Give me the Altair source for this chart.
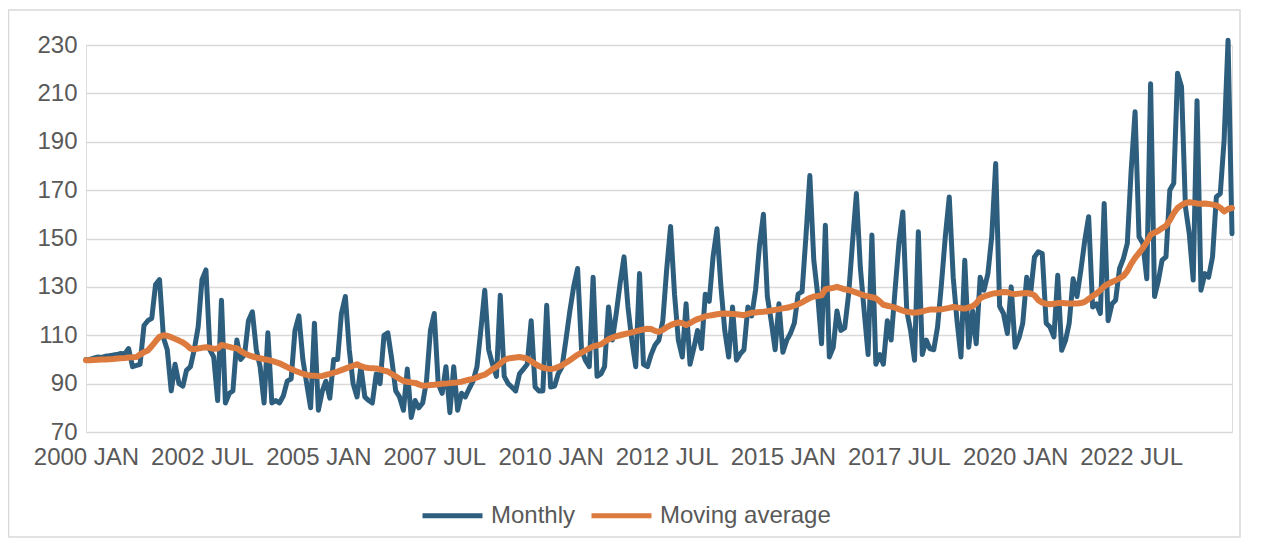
import altair as alt
import pandas as pd

start_month = "2000-01-01"

monthly = [
    100, 100, 100.5, 101, 100.8, 101.3, 101.5, 101.8, 102, 102.5, 102.3, 104.5,
    97, 97.5, 98, 114, 116, 117, 131, 133, 109, 104, 87, 98,
    90, 89, 95.5, 97, 104, 113.5, 133, 137, 104, 101, 83, 124.5,
    82, 86, 87, 108, 100, 102, 116, 119.7, 104, 97, 82, 111,
    82, 83, 82, 85, 91, 92, 112, 118, 100, 90, 80, 115,
    79, 87, 91, 84, 100, 100, 119, 126, 104, 90, 84.5, 97,
    84.5, 83, 82, 94, 90, 110, 111, 100, 87, 84.5, 79, 96,
    76, 83, 80, 82, 91, 112, 119, 90, 86, 97, 78, 97,
    79, 86, 84.5, 88, 91, 97, 112, 128.6, 104, 98, 93, 126.5,
    93, 90, 88.6, 87, 94, 96, 98, 116, 88.6, 87, 87, 122.4,
    88.6, 89, 94, 97, 108, 120, 130, 137.6, 104, 99.7, 97, 134,
    93, 94, 97, 121.7, 108, 119, 131.4, 142.4, 121.7, 108, 97, 135.5,
    98, 97, 102, 106, 108, 116, 137, 155, 127, 108, 101, 123,
    98, 105, 112, 104.5, 127, 124, 142.4, 154, 130, 112, 101, 121.7,
    99.7, 102.4, 104, 121.7, 118, 129, 147, 160, 126, 116, 104, 123,
    103, 108, 110.7, 115, 127, 128, 150.7, 176, 141, 127, 106.5, 155.5,
    101, 105, 120, 112, 113, 127, 148, 168.6, 138, 120, 102, 151.4,
    98, 102, 98, 116, 108, 128.6, 148, 161, 120, 112, 99.7, 152.8,
    102, 108, 104.5, 104, 113.4, 131.4, 150.7, 167.2, 134, 116, 101, 141,
    105, 120, 106.5, 134, 128.6, 135.5, 150.7, 181, 122, 119, 110.7, 130,
    105, 109, 115, 134, 127, 142.4, 144.5, 143.8, 115, 113.4, 109.3, 134.8,
    103.8, 108, 115, 133.4, 126, 137, 149, 159, 121.7, 123, 119, 164.5,
    116, 123, 124.5, 137.6, 141.7, 148, 178, 202.4, 150.7, 148, 133.4, 214,
    126, 132.8, 141, 142.4, 170, 172.8, 218.3, 212.8, 163, 152, 132.8, 207,
    128.6, 135.5, 134, 142.4, 167.2, 168.6, 190.7, 232, 152,
]

moving_average = [
    99.7, 99.7, 99.8, 99.9, 100, 100, 100.1, 100.2, 100.4, 100.5, 100.6, 100.8,
    100.9, 101, 102, 103, 103.7, 105.5, 107.5, 109.4, 110, 109.8, 109.2, 108.5,
    107.8, 107, 106, 104.5, 104.2, 104.5, 104.8, 105, 104.8, 104.4, 104.5, 106,
    105.6, 105.2, 104.8, 104.6, 103.5, 102.5, 101.8, 101.2, 100.8, 100.5, 100.1, 99.8,
    99.4, 98.9, 98.4, 97.6, 96.8, 96, 95.3, 94.7, 94.1, 93.6, 93.4, 93.3,
    93.1, 93.2, 93.6, 94, 94.5, 95, 95.6, 96.2, 96.8, 97.4, 98, 97.2,
    96.7, 96.5, 96.4, 96.3, 95.9, 95.4, 95, 94, 93, 92, 91.1, 90.8,
    90.5, 90.3, 89.7, 89.1, 89.2, 89.4, 89.5, 89.7, 89.9, 90, 90.2, 90.4,
    90.5, 90.8, 91.2, 91.6, 92, 92.6, 93.2, 93.7, 94.8, 96, 97, 98.3,
    99.7, 100.4, 100.6, 100.8, 101, 100.7, 100.3, 99.3, 98.1, 97.3, 96.6, 96.2,
    96, 96.3, 96.8, 97.6, 98.6, 99.7, 100.8, 101.9, 102.8, 103.7, 104.6, 105.4,
    105.8, 106.2, 107.3, 108.3, 109, 109.6, 110, 110.4, 110.8, 111.2, 111.6, 112,
    112.4, 112.7, 112.6, 111.8, 111.4, 112.2, 113.3, 114.2, 114.8, 115.3, 115, 114.2,
    115, 116, 116.7, 117.2, 117.8, 118.1, 118.4, 118.7, 118.9, 119, 118.9, 118.8,
    118.7, 118.5, 118.3, 118.8, 119.3, 119.4, 119.6, 119.7, 119.9, 120.2, 120.5, 120.8,
    121.1, 121.4, 121.7, 122.2, 122.8, 123.6, 124.5, 125.4, 126, 126.2, 126.5, 129,
    129.3, 129.6, 130, 129.5, 129, 128.7, 128.2, 127.6, 127, 126.5, 126.1, 125.7,
    125.3, 124, 122.6, 122.2, 121.8, 121.4, 120.8, 120.2, 119.7, 119.5, 119.3, 119.5,
    119.9, 120.3, 120.6, 120.6, 120.6, 120.7, 121, 121.3, 121.7, 121.5, 121.2, 121,
    121.5, 122, 123.2, 125.3, 126, 126.6, 127.1, 127.4, 127.6, 127.9, 127.8, 127.2,
    127, 127.2, 127.4, 127.5, 127.3, 126.5, 124.5, 123.5, 123, 122.8, 123, 123.3,
    123.3, 123.2, 123.1, 123.1, 123.1, 123.3, 123.8, 125, 126.2, 127.2, 128.6, 130.2,
    131.2, 132, 132.7, 133.5, 134.5, 136.5, 139.5, 142, 144, 146, 148.5, 151.5,
    152.4, 153.2, 154.2, 155.3, 157.5, 160.5, 162.6, 163.8, 164.7, 165, 164.8, 164.5,
    164.4, 164.5, 164.3, 164, 163.7, 162.7, 161.2, 162.2, 162.6,
]

series_names = ["Monthly", "Moving average"]
series_colors = ["#2E5E7E", "#DD7A3E"]
y_ticks = [70, 90, 110, 130, 150, 170, 190, 210, 230]
tick_years = [2000, 2002, 2005, 2007, 2010, 2012, 2015, 2017, 2020, 2022]
tick_month_numbers = [1, 7, 1, 7, 1, 7, 1, 7, 1, 7]
tick_labels = ["2000 JAN", "2002 JUL", "2005 JAN", "2007 JUL", "2010 JAN",
               "2012 JUL", "2015 JAN", "2017 JUL", "2020 JAN", "2022 JUL"]

assert len(monthly) == len(moving_average)
n = len(monthly)
months = pd.date_range(start_month, periods=n, freq="MS")
month_str = months.strftime("%Y-%m-%d").tolist()

df = pd.DataFrame({
    "month": month_str * 2,
    "value": monthly + moving_average,
    "series": [series_names[0]] * n + [series_names[1]] * n,
})

FONT = "Liberation Sans"
TXT = "#595959"

tick_values = [alt.DateTime(year=y, month=m, date=1, utc=True)
               for y, m in zip(tick_years, tick_month_numbers)]
label_array = "[" + ",".join("'" + t + "'" for t in tick_labels) + "]"
label_expr = (label_array + "[round(((utcyear(datum.value)-" + str(tick_years[0]) +
              ")*12 + utcmonth(datum.value))/30)]")

x_enc = alt.X(
    "month:T",
    scale=alt.Scale(
        type="utc",
        domain=[alt.DateTime(year=months[0].year, month=months[0].month, date=1, utc=True),
                alt.DateTime(year=months[-1].year, month=months[-1].month, date=1, utc=True)],
        nice=False,
        padding=0,
    ),
    axis=alt.Axis(values=tick_values, labelExpr=label_expr, title=None, grid=False,
                  ticks=False, domain=False, labelFontSize=24, labelColor=TXT,
                  labelFont=FONT, labelPadding=13, labelOverlap=False,
                  labelFlush=False, labelBound=False),
)
y_enc = alt.Y(
    "value:Q",
    scale=alt.Scale(domain=[70, 230], nice=False, zero=False),
    axis=alt.Axis(values=y_ticks, title=None, grid=True, gridColor="#D9D9D9",
                  gridWidth=1.5, ticks=False, domain=False, labelFontSize=24,
                  labelColor=TXT, labelFont=FONT, labelPadding=9),
)
color_enc = alt.Color(
    "series:N",
    scale=alt.Scale(domain=series_names, range=series_colors),
    legend=alt.Legend(title=None, orient="none", legendX=334, legendY=438,
                      direction="horizontal", symbolType="stroke", symbolSize=3600,
                      symbolStrokeWidth=5, labelFontSize=24, labelColor=TXT,
                      labelFont=FONT, labelOffset=6, columnPadding=5,
                      labelLimit=400),
)

base = alt.Chart(df).encode(x=x_enc, y=y_enc, color=color_enc)

monthly_line = base.transform_filter(alt.datum.series == series_names[0]).mark_line(
    strokeWidth=5, strokeJoin="round", strokeCap="round")
ma_line = base.transform_filter(alt.datum.series == series_names[1]).mark_line(
    strokeWidth=6, strokeJoin="round", strokeCap="round")

frame = alt.Chart(pd.DataFrame({"f": [0]})).mark_rect(
    fill="white", fillOpacity=0, stroke="#D9D9D9", strokeWidth=1.5
).encode(x=alt.value(-77.5), x2=alt.value(1154), y=alt.value(-35), y2=alt.value(492))

chart = alt.layer(frame, monthly_line, ma_line).properties(
    width=1146,
    height=387,
    padding={"left": 78, "top": 37, "right": 12, "bottom": 110},
    autosize=alt.AutoSizeParams(type="none"),
    background="white",
).configure_view(stroke=None).configure(font=FONT)

chart.save("out.html", embed_options={"renderer": "svg", "actions": False})
